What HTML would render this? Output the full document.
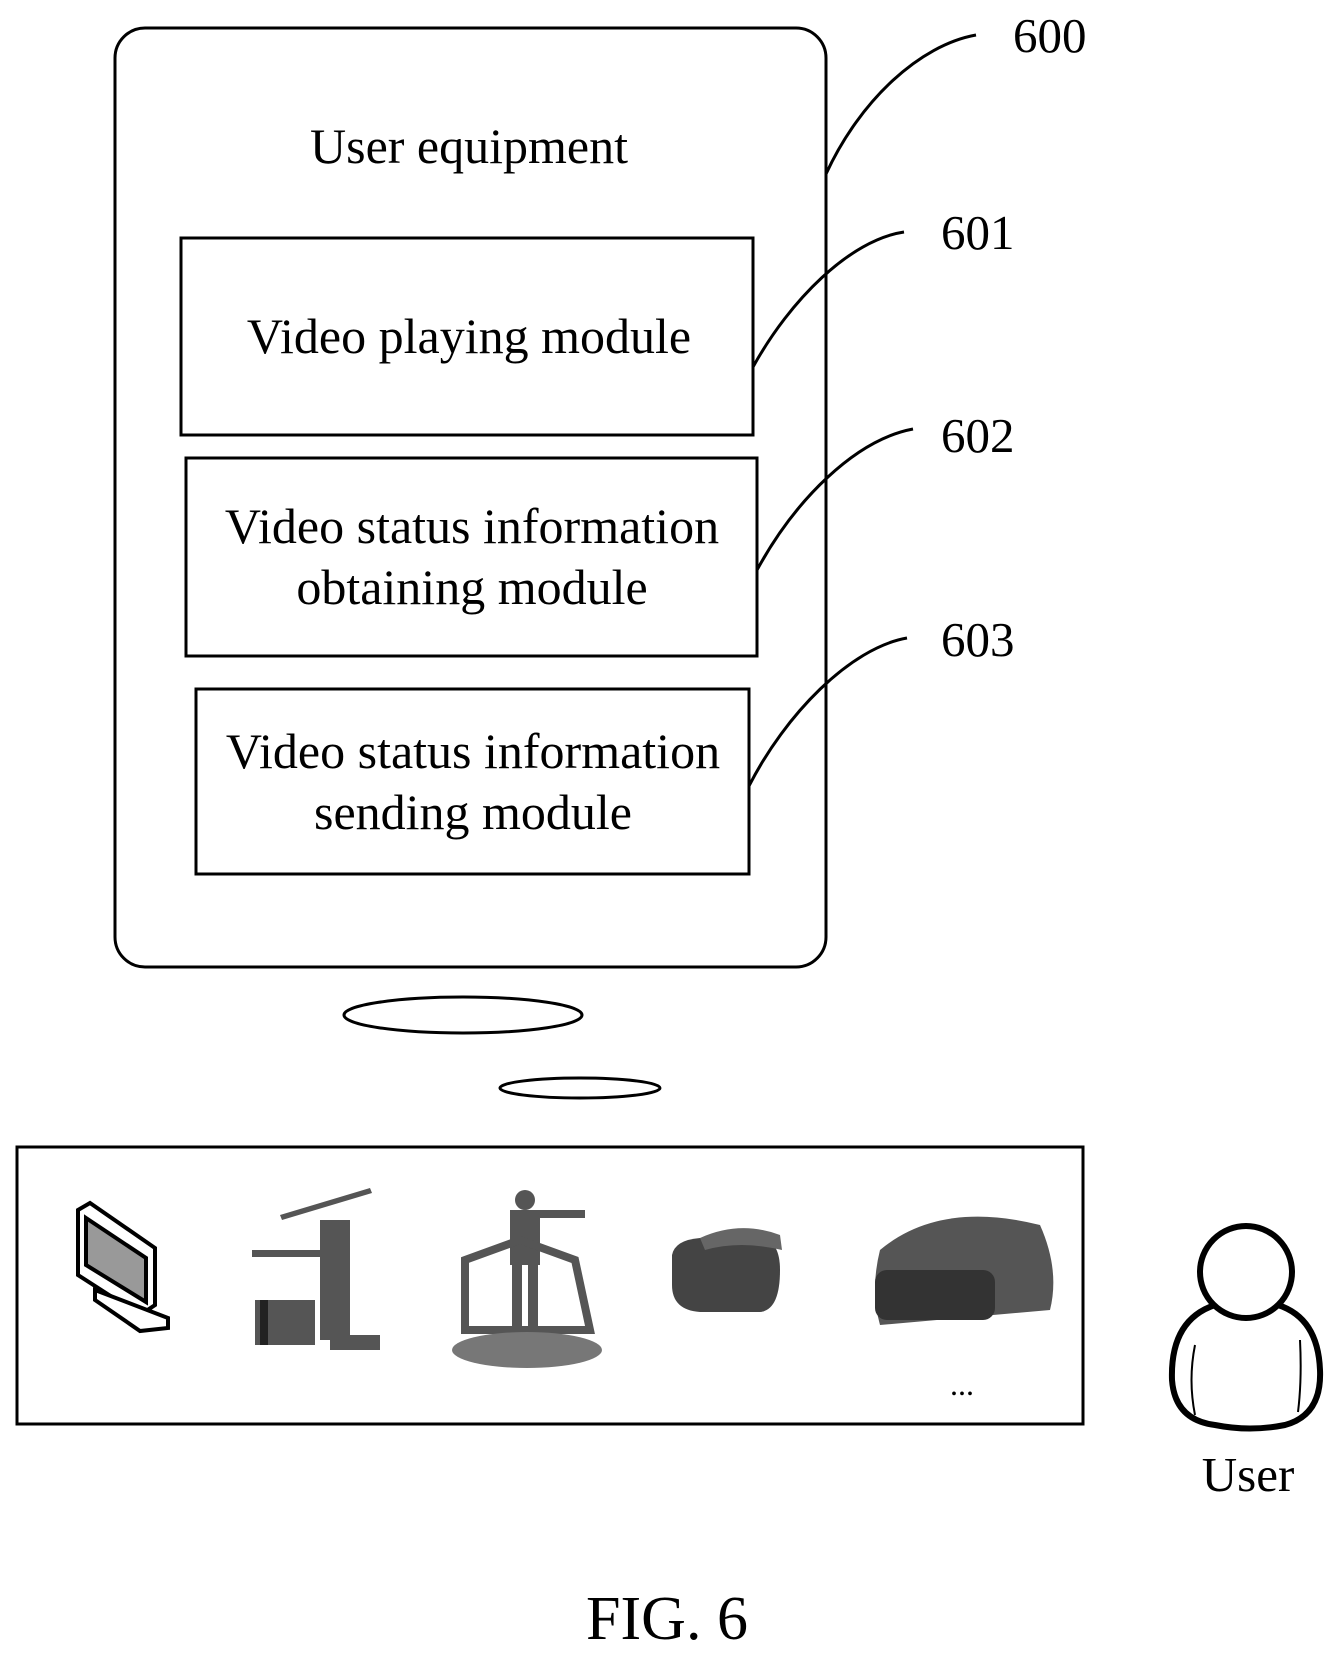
<!DOCTYPE html>
<html><head><style>
body{margin:0;background:#fff;}
svg text{font-family:"Liberation Serif",serif;fill:#000;}
</style></head><body>
<svg width="1335" height="1654" viewBox="0 0 1335 1654" xmlns="http://www.w3.org/2000/svg">
<rect x="0" y="0" width="1335" height="1654" fill="#fff"/>
<g fill="none" stroke="#000">
<rect x="115" y="28" width="711" height="939" rx="30" stroke-width="3"/>
<rect x="181" y="238" width="572" height="197" stroke-width="3"/>
<rect x="186" y="458" width="571" height="198" stroke-width="3"/>
<rect x="196" y="689" width="553" height="185" stroke-width="3"/>
<path d="M826 174 C860 100 920 45 976 35" stroke-width="3"/>
<path d="M753 367 C790 300 850 240 904 232" stroke-width="3"/>
<path d="M757 570 C795 500 855 440 913 429" stroke-width="3"/>
<path d="M749 786 C785 715 850 648 907 638" stroke-width="3"/>
<ellipse cx="463" cy="1015" rx="119" ry="18" stroke-width="3"/>
<ellipse cx="580" cy="1088" rx="80" ry="10" stroke-width="3"/>
<rect x="17" y="1147" width="1066" height="277" stroke-width="3"/>
</g>
<text x="469" y="163" font-size="50" text-anchor="middle">User equipment</text>
<text x="469" y="353" font-size="50" text-anchor="middle">Video playing module</text>
<text x="472" y="543" font-size="50" text-anchor="middle">Video status information</text>
<text x="472" y="604" font-size="50" text-anchor="middle">obtaining module</text>
<text x="473" y="768" font-size="50" text-anchor="middle">Video status information</text>
<text x="473" y="829" font-size="50" text-anchor="middle">sending module</text>
<text x="1013" y="52" font-size="49">600</text>
<text x="941" y="249" font-size="49">601</text>
<text x="941" y="452" font-size="49">602</text>
<text x="941" y="656" font-size="49">603</text>
<g stroke="#000" stroke-width="4" fill="#fff">
<path d="M78 1210 L90 1203 L155 1248 L155 1305 L140 1315 L78 1275 Z"/>
<path d="M86 1218 L146 1258 L146 1302 L86 1265 Z" fill="#999"/>
<path d="M95 1290 L168 1318 L168 1328 L140 1331 L95 1300 Z"/>
</g>
<g fill="#555">
<rect x="252" y="1250" width="95" height="7"/>
<rect x="255" y="1300" width="60" height="45"/>
<rect x="320" y="1220" width="30" height="120"/>
<rect x="260" y="1300" width="8" height="45" fill="#222"/>
<path d="M280 1215 L370 1188 L372 1193 L282 1220 Z"/>
<rect x="330" y="1335" width="50" height="15"/>
</g>
<g fill="#555">
<circle cx="525" cy="1200" r="10"/>
<rect x="510" y="1210" width="30" height="55"/>
<rect x="512" y="1265" width="10" height="75"/>
<rect x="528" y="1265" width="10" height="75"/>
<rect x="520" y="1210" width="65" height="8"/>
<path d="M465 1260 L520 1240 L575 1260 L590 1330 L465 1330 Z" fill="none" stroke="#555" stroke-width="8"/>
<ellipse cx="527" cy="1350" rx="75" ry="18" fill="#777"/>
</g>
<g fill="#444">
<path d="M672 1255 Q675 1240 700 1238 L760 1238 Q780 1240 780 1270 Q780 1310 760 1312 L700 1312 Q672 1310 672 1285 Z"/>
<path d="M700 1238 Q740 1220 780 1235 L782 1250 Q740 1240 705 1250 Z" fill="#666"/>
</g>
<g fill="#555">
<path d="M880 1250 Q940 1200 1040 1225 Q1060 1270 1050 1310 L880 1325 Q870 1290 880 1250 Z"/>
<rect x="875" y="1270" width="120" height="50" rx="12" fill="#333"/>
</g>
<text x="962" y="1395" font-size="32" text-anchor="middle">...</text>
<g fill="none" stroke="#000">
<path d="M1215 1305 Q1170 1320 1172 1380 Q1175 1420 1215 1425 Q1250 1432 1285 1425 Q1322 1415 1320 1370 Q1318 1318 1278 1305" stroke-width="6"/>
<circle cx="1246" cy="1272" r="46" stroke-width="6"/>
<path d="M1195 1345 Q1188 1380 1195 1415 M1300 1340 Q1302 1380 1298 1412" stroke-width="2"/>
</g>
<text x="1248" y="1491" font-size="49" text-anchor="middle">User</text>
<text x="667" y="1639" font-size="62" text-anchor="middle">FIG. 6</text>
</svg>
</body></html>
